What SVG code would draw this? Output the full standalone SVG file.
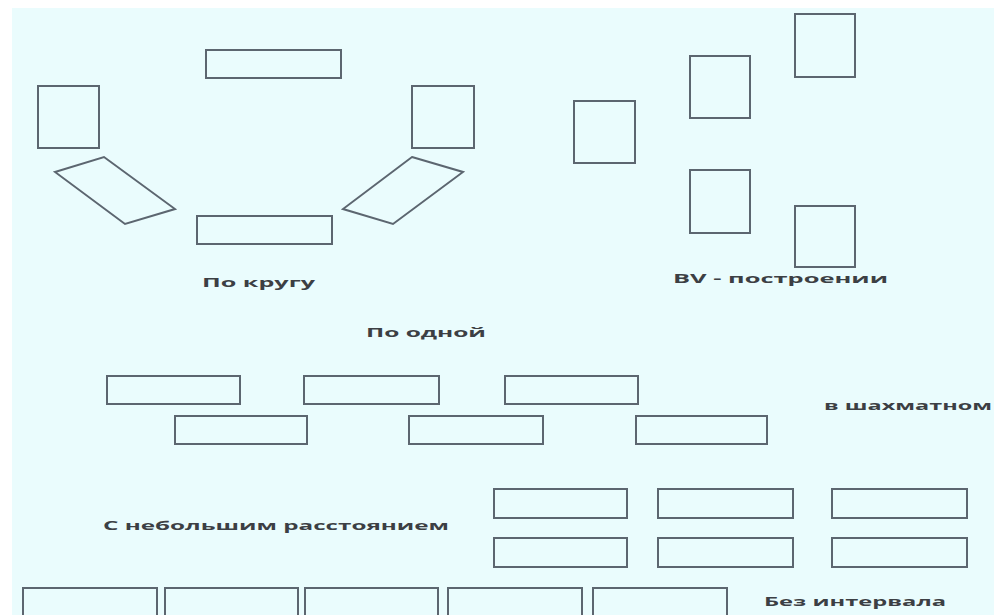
<svg xmlns="http://www.w3.org/2000/svg" width="994" height="615" viewBox="0 0 994 615">
<style>
.b{fill:none;stroke:#5c6670;stroke-width:2}
.t{font-family:"Open Sans","Liberation Sans",sans-serif;font-weight:bold;font-size:13px;fill:#3c3f44}
</style>
<rect x="0" y="0" width="994" height="615" fill="#ffffff"/>
<rect x="12" y="8" width="982" height="607" fill="#eafcfd"/>
<g id="circle">
<g id="c1"><rect class="b" x="206" y="50" width="135" height="28"/></g>
<g id="c2"><rect class="b" x="38" y="86" width="61" height="62"/></g>
<g id="c3"><rect class="b" x="412" y="86" width="62" height="62"/></g>
<g id="c4"><polygon class="b" points="55,172 104,157 175,209 125,224"/></g>
<g id="c5"><polygon class="b" points="412,157 463,172 393,224 343,209"/></g>
<g id="c6"><rect class="b" x="197" y="216" width="135" height="28"/></g>
</g>
<g id="vshape">
<g id="v1"><rect class="b" x="574" y="101" width="61" height="62"/></g>
<g id="v2"><rect class="b" x="690" y="56" width="60" height="62"/></g>
<g id="v3"><rect class="b" x="795" y="14" width="60" height="63"/></g>
<g id="v4"><rect class="b" x="690" y="170" width="60" height="63"/></g>
<g id="v5"><rect class="b" x="795" y="206" width="60" height="61"/></g>
</g>
<g id="chess">
<g id="s1"><rect class="b" x="107" y="376" width="133" height="28"/></g>
<g id="s2"><rect class="b" x="304" y="376" width="135" height="28"/></g>
<g id="s3"><rect class="b" x="505" y="376" width="133" height="28"/></g>
<g id="s4"><rect class="b" x="175" y="416" width="132" height="28"/></g>
<g id="s5"><rect class="b" x="409" y="416" width="134" height="28"/></g>
<g id="s6"><rect class="b" x="636" y="416" width="131" height="28"/></g>
</g>
<g id="grid">
<g id="g1"><rect class="b" x="494" y="489" width="133" height="29"/></g>
<g id="g2"><rect class="b" x="658" y="489" width="135" height="29"/></g>
<g id="g3"><rect class="b" x="832" y="489" width="135" height="29"/></g>
<g id="g4"><rect class="b" x="494" y="538" width="133" height="29"/></g>
<g id="g5"><rect class="b" x="658" y="538" width="135" height="29"/></g>
<g id="g6"><rect class="b" x="832" y="538" width="135" height="29"/></g>
</g>
<g id="row">
<g id="r1"><rect class="b" x="23" y="588" width="134" height="40"/></g>
<g id="r2"><rect class="b" x="165" y="588" width="133" height="40"/></g>
<g id="r3"><rect class="b" x="305" y="588" width="133" height="40"/></g>
<g id="r4"><rect class="b" x="448" y="588" width="134" height="40"/></g>
<g id="r5"><rect class="b" x="593" y="588" width="134" height="40"/></g>
</g>
<g id="connectors"></g>
<g id="labels">
<text class="t" x="202" y="287" textLength="113" lengthAdjust="spacingAndGlyphs">По кругу</text>
<text class="t" x="673" y="283" textLength="215" lengthAdjust="spacingAndGlyphs">BV - построении</text>
<text class="t" x="366" y="337" textLength="120" lengthAdjust="spacingAndGlyphs">По одной</text>
<text class="t" x="824" y="410" textLength="168" lengthAdjust="spacingAndGlyphs">в шахматном</text>
<text class="t" x="103" y="530" textLength="346" lengthAdjust="spacingAndGlyphs">С небольшим расстоянием</text>
<text class="t" x="764" y="606" textLength="182" lengthAdjust="spacingAndGlyphs">Без интервала</text>
</g>
</svg>
